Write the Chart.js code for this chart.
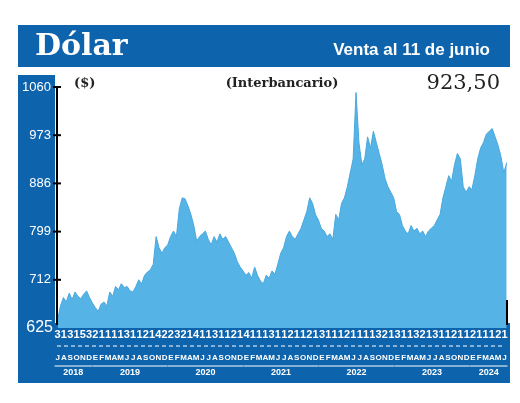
<!DOCTYPE html><html><head><meta charset="utf-8">
<script src="https://cdn.jsdelivr.net/npm/chart.js@4/dist/chart.umd.min.js"></script>
<style>html,body{margin:0;background:#fff}#c{display:block}</style></head><body>
<canvas id="c" width="520" height="403"></canvas>
<script>
const yTicks=[625,712,799,886,973,1060];
const months=["J","A","S","O","N","D","E","F","M","A","M","J","J","A","S","O","N","D","E","F","M","A","M","J","J","A","S","O","N","D","E","F","M","A","M","J","J","A","S","O","N","D","E","F","M","A","M","J","J","A","S","O","N","D","E","F","M","A","M","J","J","A","S","O","N","D","E","F","M","A","M","J"];
const days="313153211113112142232141131121411131121121311121111321311321311211211121".split("");
const years=[["2018",0,5],["2019",6,17],["2020",18,29],["2021",30,41],["2022",42,53],["2023",54,65],["2024",66,71]];
// readings from July 2018 to 11 June 2024, evenly spaced in time
const values=[640,665,680,672,688,676,690,682,678,686,692,680,
670,662,655,668,672,665,690,682,700,694,705,698,
700,692,690,700,712,705,720,726,730,740,790,770,
760,770,775,790,800,790,840,860,858,845,830,810,
782,790,795,800,785,775,790,780,795,785,790,780,
770,760,745,735,728,720,725,715,735,720,710,705,
720,715,728,722,740,760,770,790,800,790,785,795,
805,820,835,860,850,830,820,805,800,790,795,785,
830,820,850,860,880,905,930,1050,960,920,930,970,
950,980,960,940,920,895,880,870,860,835,830,810,
800,795,810,800,805,795,800,790,800,805,810,820,
830,860,880,900,890,920,940,930,880,870,880,875,
900,930,950,960,975,980,985,970,955,935,905,923.5];
const lastMonth=71.35;
const pts=values.map((v,i)=>({x:i*lastMonth/(values.length-1),y:v}));
const deco={id:'deco',
beforeDraw(c){const g=c.ctx;const B='#0e64ac';g.save();
g.fillStyle=B;g.fillRect(18,25,492,42);g.fillRect(18,75,37,308);g.fillRect(18,323,492,60);
g.fillStyle='#fff';g.fillRect(55,75,455,248);
g.fillStyle='#fff';g.font='bold 30px "DejaVu Serif", serif';g.textBaseline='middle';g.fillText('Dólar',35,47);
g.font='bold 17px "Liberation Sans Narrow", "Liberation Sans"';g.textAlign='right';g.fillText('Venta al 11 de junio',490,50);
g.fillStyle='#222';g.font='bold 13px "DejaVu Serif", serif';g.textAlign='center';g.fillText('(Interbancario)',282,84);
g.textAlign='left';g.fillText('($)',74,84);
g.font='21px "DejaVu Serif", serif';g.textAlign='right';g.fillText('923,50',500,84);
g.restore();},
afterDraw(c){const g=c.ctx,x=c.scales.x,y=c.scales.y;g.save();
g.strokeStyle='#000';g.lineWidth=2;g.beginPath();g.moveTo(57,87);g.lineTo(57,325);g.moveTo(507,300);g.lineTo(507,325);g.stroke();
g.textBaseline='middle';g.textAlign='right';
yTicks.forEach(t=>{const p=y.getPixelForValue(t);g.fillStyle='#fff';g.font=(t==625?'16px':'13px')+' "Liberation Sans Narrow","Liberation Sans"';g.fillText(String(t),t==625?53:51,p);
g.beginPath();g.moveTo(53,p);g.lineTo(61,p);g.strokeStyle='#000';g.lineWidth=2;if(t!=625)g.stroke();});
g.fillStyle='#fff';g.textAlign='center';
months.forEach((m,i)=>{const p=x.getPixelForValue(i);g.font='bold 11px "Liberation Sans Narrow","Liberation Sans"';g.fillText(days[i]||'1',p,335);g.font='bold 8px "Liberation Sans Narrow","Liberation Sans"';g.fillText(m,p,358);});
g.strokeStyle='#fff';g.lineWidth=1;g.setLineDash([4,3]);g.beginPath();g.moveTo(57,346);g.lineTo(505,346);g.stroke();g.setLineDash([]);
g.font='bold 9px "Liberation Sans Narrow","Liberation Sans"';
years.forEach(([l,a,b])=>{const p0=x.getPixelForValue(a)-3,p1=x.getPixelForValue(b)+3;g.beginPath();g.moveTo(p0,366);g.lineTo(p1,366);g.stroke();g.fillText(l,(p0+p1)/2,373);});
g.restore();}};
new Chart(document.getElementById('c'),{type:'line',
data:{datasets:[{data:pts,fill:'origin',backgroundColor:'#55b3e6',borderColor:'#4aa8de',borderWidth:1,pointRadius:0,tension:0}]},
options:{responsive:false,animation:false,layout:{padding:{left:57,right:13,top:87,bottom:75}},
plugins:{legend:{display:false},tooltip:{enabled:false}},
scales:{x:{type:'linear',min:-0.1,max:71.4,display:false},y:{min:625,max:1060,display:false}}},
plugins:[deco]});
</script></body></html>
